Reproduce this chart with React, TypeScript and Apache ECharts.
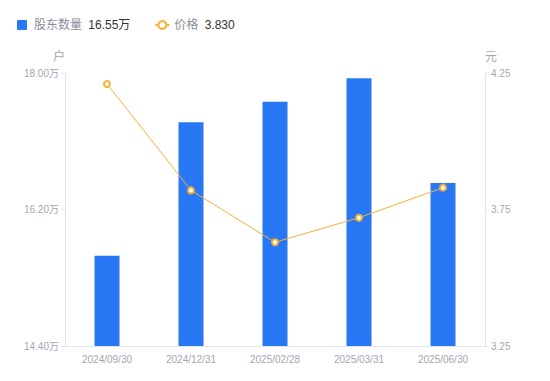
import React, { useEffect, useRef } from "react";
import * as echarts from "echarts";

const categories = ["2024/09/30", "2024/12/31", "2025/02/28", "2025/03/31", "2025/06/30"];
const holders = [15.59, 17.35, 17.62, 17.93, 16.55]; // 万户
const prices = [4.21, 3.82, 3.63, 3.72, 3.83];
const leftTicks = { min: 14.4, max: 18.0, interval: 1.8 };
const rightTicks = { min: 3.25, max: 4.25, interval: 0.5 };
const legendValues: Record<string, string> = { "股东数量": "16.55万", "价格": "3.830" };

const FONT = "'Liberation Sans', 'Noto Sans CJK SC', sans-serif";
const LABEL = "#a3a6b4";
const AXIS = "#e3e4e8";

export default function App() {
  const ref = useRef<HTMLDivElement>(null);
  useEffect(() => {
    if (!ref.current) return;
    const chart = echarts.init(ref.current, null, { renderer: "svg" });
    chart.setOption({
      animation: false,
      textStyle: { fontFamily: FONT },
      legend: {
        left: 4,
        top: 6,
        itemGap: 24,
        itemWidth: 14,
        itemHeight: 10,
        textStyle: {
          fontFamily: FONT,
          rich: {
            n: { color: "#8a8d99", fontSize: 12, fontFamily: FONT },
            v: { color: "#333", fontSize: 12, fontFamily: FONT, padding: [0, 0, 0, 3] },
          },
        },
        formatter: (name: string) => `{n|${name}} {v|${legendValues[name]}}`,
        data: [
          { name: "股东数量", icon: "path://M1,0 H9 Q10,0 10,1 V9 Q10,10 9,10 H1 Q0,10 0,9 V1 Q0,0 1,0 Z" },
          { name: "价格" },
        ],
      },
      grid: { left: 57, right: 57, top: 65, bottom: 27 },
      xAxis: {
        type: "category",
        data: categories,
        axisLine: { lineStyle: { color: AXIS } },
        axisTick: { show: false },
        axisLabel: { color: LABEL, fontSize: 10, margin: 8, fontFamily: FONT },
      },
      yAxis: [
        {
          type: "value",
          name: "户",
          nameGap: 10,
          nameTextStyle: { color: LABEL, fontSize: 12, align: "right" },
          min: leftTicks.min,
          max: leftTicks.max,
          interval: leftTicks.interval,
          axisLine: { show: true, lineStyle: { color: AXIS } },
          axisTick: { show: true, length: 4, lineStyle: { color: AXIS } },
          splitLine: { show: false },
          axisLabel: { color: LABEL, fontSize: 10, margin: 6, formatter: (v: number) => v.toFixed(2) + "万" },
        },
        {
          type: "value",
          name: "元",
          nameGap: 10,
          nameTextStyle: { color: LABEL, fontSize: 12, align: "left" },
          min: rightTicks.min,
          max: rightTicks.max,
          interval: rightTicks.interval,
          axisLine: { show: true, lineStyle: { color: AXIS } },
          axisTick: { show: true, length: 4, lineStyle: { color: AXIS } },
          splitLine: { show: false },
          axisLabel: { color: LABEL, fontSize: 10, margin: 6, formatter: (v: number) => v.toFixed(2) },
        },
      ],
      series: [
        {
          name: "股东数量",
          type: "bar",
          data: holders,
          barWidth: 25,
          itemStyle: { color: "#2878f5" },
        },
        {
          name: "价格",
          type: "line",
          yAxisIndex: 1,
          data: prices,
          symbol: "emptyCircle",
          symbolSize: 6,
          lineStyle: { color: "#f7b135", width: 1 },
          itemStyle: { color: "#f7b135", borderWidth: 1.5 },
        },
      ],
    });
    return () => chart.dispose();
  }, []);
  return <div ref={ref} style={{ width: 534, height: 365 }} />;
}
